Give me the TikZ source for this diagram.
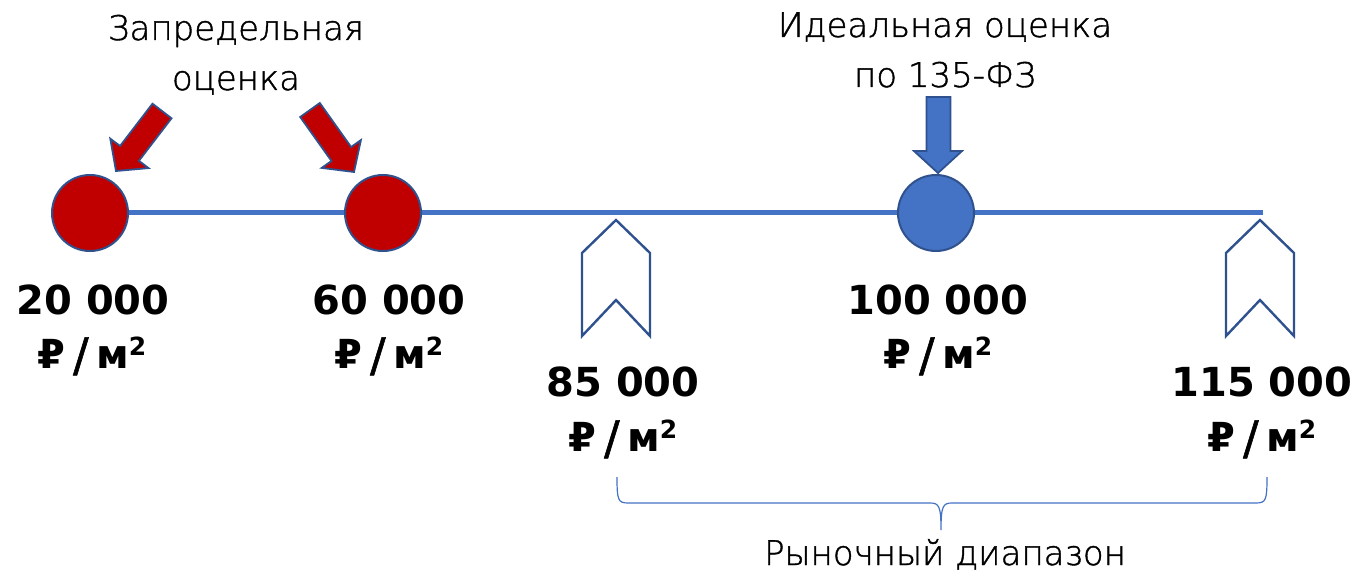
\documentclass[tikz,border=0pt]{standalone}
\usepackage{fontspec}
\setmainfont{DejaVu Sans}
\newfontfamily\lightfont[FakeBold=1.2]{DejaVu Sans ExtraLight}
\definecolor{cred}{HTML}{C00000}
\definecolor{cblue}{HTML}{4472C4}
\definecolor{cdark}{HTML}{2F528F}
\begin{document}
\begin{tikzpicture}[x=1pt,y=-1pt,
  dot/.style={circle,draw=cdark,line width=2pt,minimum size=76pt,inner sep=0pt},
  reddot/.style={dot,fill=cred},
  bluedot/.style={dot,fill=cblue},
  pointer/.style={draw=cdark,line width=1.8pt,line join=miter},
  flag/.style={draw=cdark,line width=2.4pt,fill=white,line join=miter},
  lbl/.style={font=\lightfont\fontsize{34}{40}\selectfont,anchor=base,inner sep=0pt},
  num/.style={font=\bfseries\fontsize{40}{46}\selectfont,anchor=base,inner sep=0pt},
  unit/.style={font=\bfseries\fontsize{40}{46}\selectfont,anchor=base,inner sep=0pt}
]
\useasboundingbox (0,0) rectangle (1361,572);
% axis
\coordinate (axL) at (90,213);
\coordinate (axR) at (1263,213);
\draw[cblue,line width=5pt] (axL) -- (axR);
% flags
\draw[flag] (616,220) -- (650,253) -- (650,336) -- (616,300) -- (582,336) -- (582,253) -- cycle;
\draw[flag] (1260,220) -- (1294,253) -- (1294,336) -- (1260,300) -- (1226,336) -- (1226,253) -- cycle;
% circles
\node[reddot] (c1) at (90,213) {};
\node[reddot] (c2) at (383,213) {};
\node[bluedot] (c3) at (936,213) {};
% pointers
\draw[pointer,fill=cred] (171.5,118.3) -- (152.5,103.7) -- (120.1,146.0) -- (110.3,138.7) -- (116,171) -- (148.5,168.1) -- (138.9,160.8) -- cycle;
\draw[pointer,fill=cred] (319.8,103.0) -- (300.2,117.0) -- (331.5,161.0) -- (321.7,167.9) -- (354,172) -- (360.9,140.1) -- (351.1,147.0) -- cycle;
\draw[pointer,fill=cblue] (926.5,97) -- (950.5,97) -- (950.5,151) -- (962,151) -- (938,173) -- (914,151) -- (926.5,151) -- cycle;
% labels
\node[lbl] (t1a) at (236,40) {Запредельная};
\node[lbl] (t1b) at (236,90) {оценка};
\node[lbl] (t2a) at (945,37) {Идеальная оценка};
\node[lbl] (t2b) at (945,87) {по 135-ФЗ};
% values
\newcommand{\rub}{₽{\lightfont\fontsize{46}{46}\selectfont\,\raisebox{-3pt}{/}\,}м\raisebox{13pt}{\fontsize{25}{25}\selectfont 2}}
\node[num] (v1) at (93,314) {20 000};
\node[unit] (u1) at (92,368) {\rub};
\node[num] (v2) at (389,314) {60 000};
\node[unit] (u2) at (389,368) {\rub};
\node[num] (v3) at (623,396) {85 000};
\node[unit] (u3) at (623,451) {\rub};
\node[num] (v4) at (938,314) {100 000};
\node[unit] (u4) at (938,368) {\rub};
\node[num] (v5) at (1262,396) {115 000};
\node[unit] (u5) at (1262,451) {\rub};
% brace
\coordinate (bL) at (617,477);
\coordinate (bT) at (941,530);
\coordinate (bR) at (1267,477);
\draw[cblue,line width=1.2pt] (bL) .. controls (617,500) and (618,503) .. (628,503) -- (930,503) .. controls (939,503) and (941,506) .. (bT)
  (bT) .. controls (941,506) and (943,503) .. (952,503) -- (1256,503) .. controls (1266,503) and (1267,500) .. (bR);
\node[lbl] (t3) at (945,565) {Рыночный диапазон};
\end{tikzpicture}
\end{document}
